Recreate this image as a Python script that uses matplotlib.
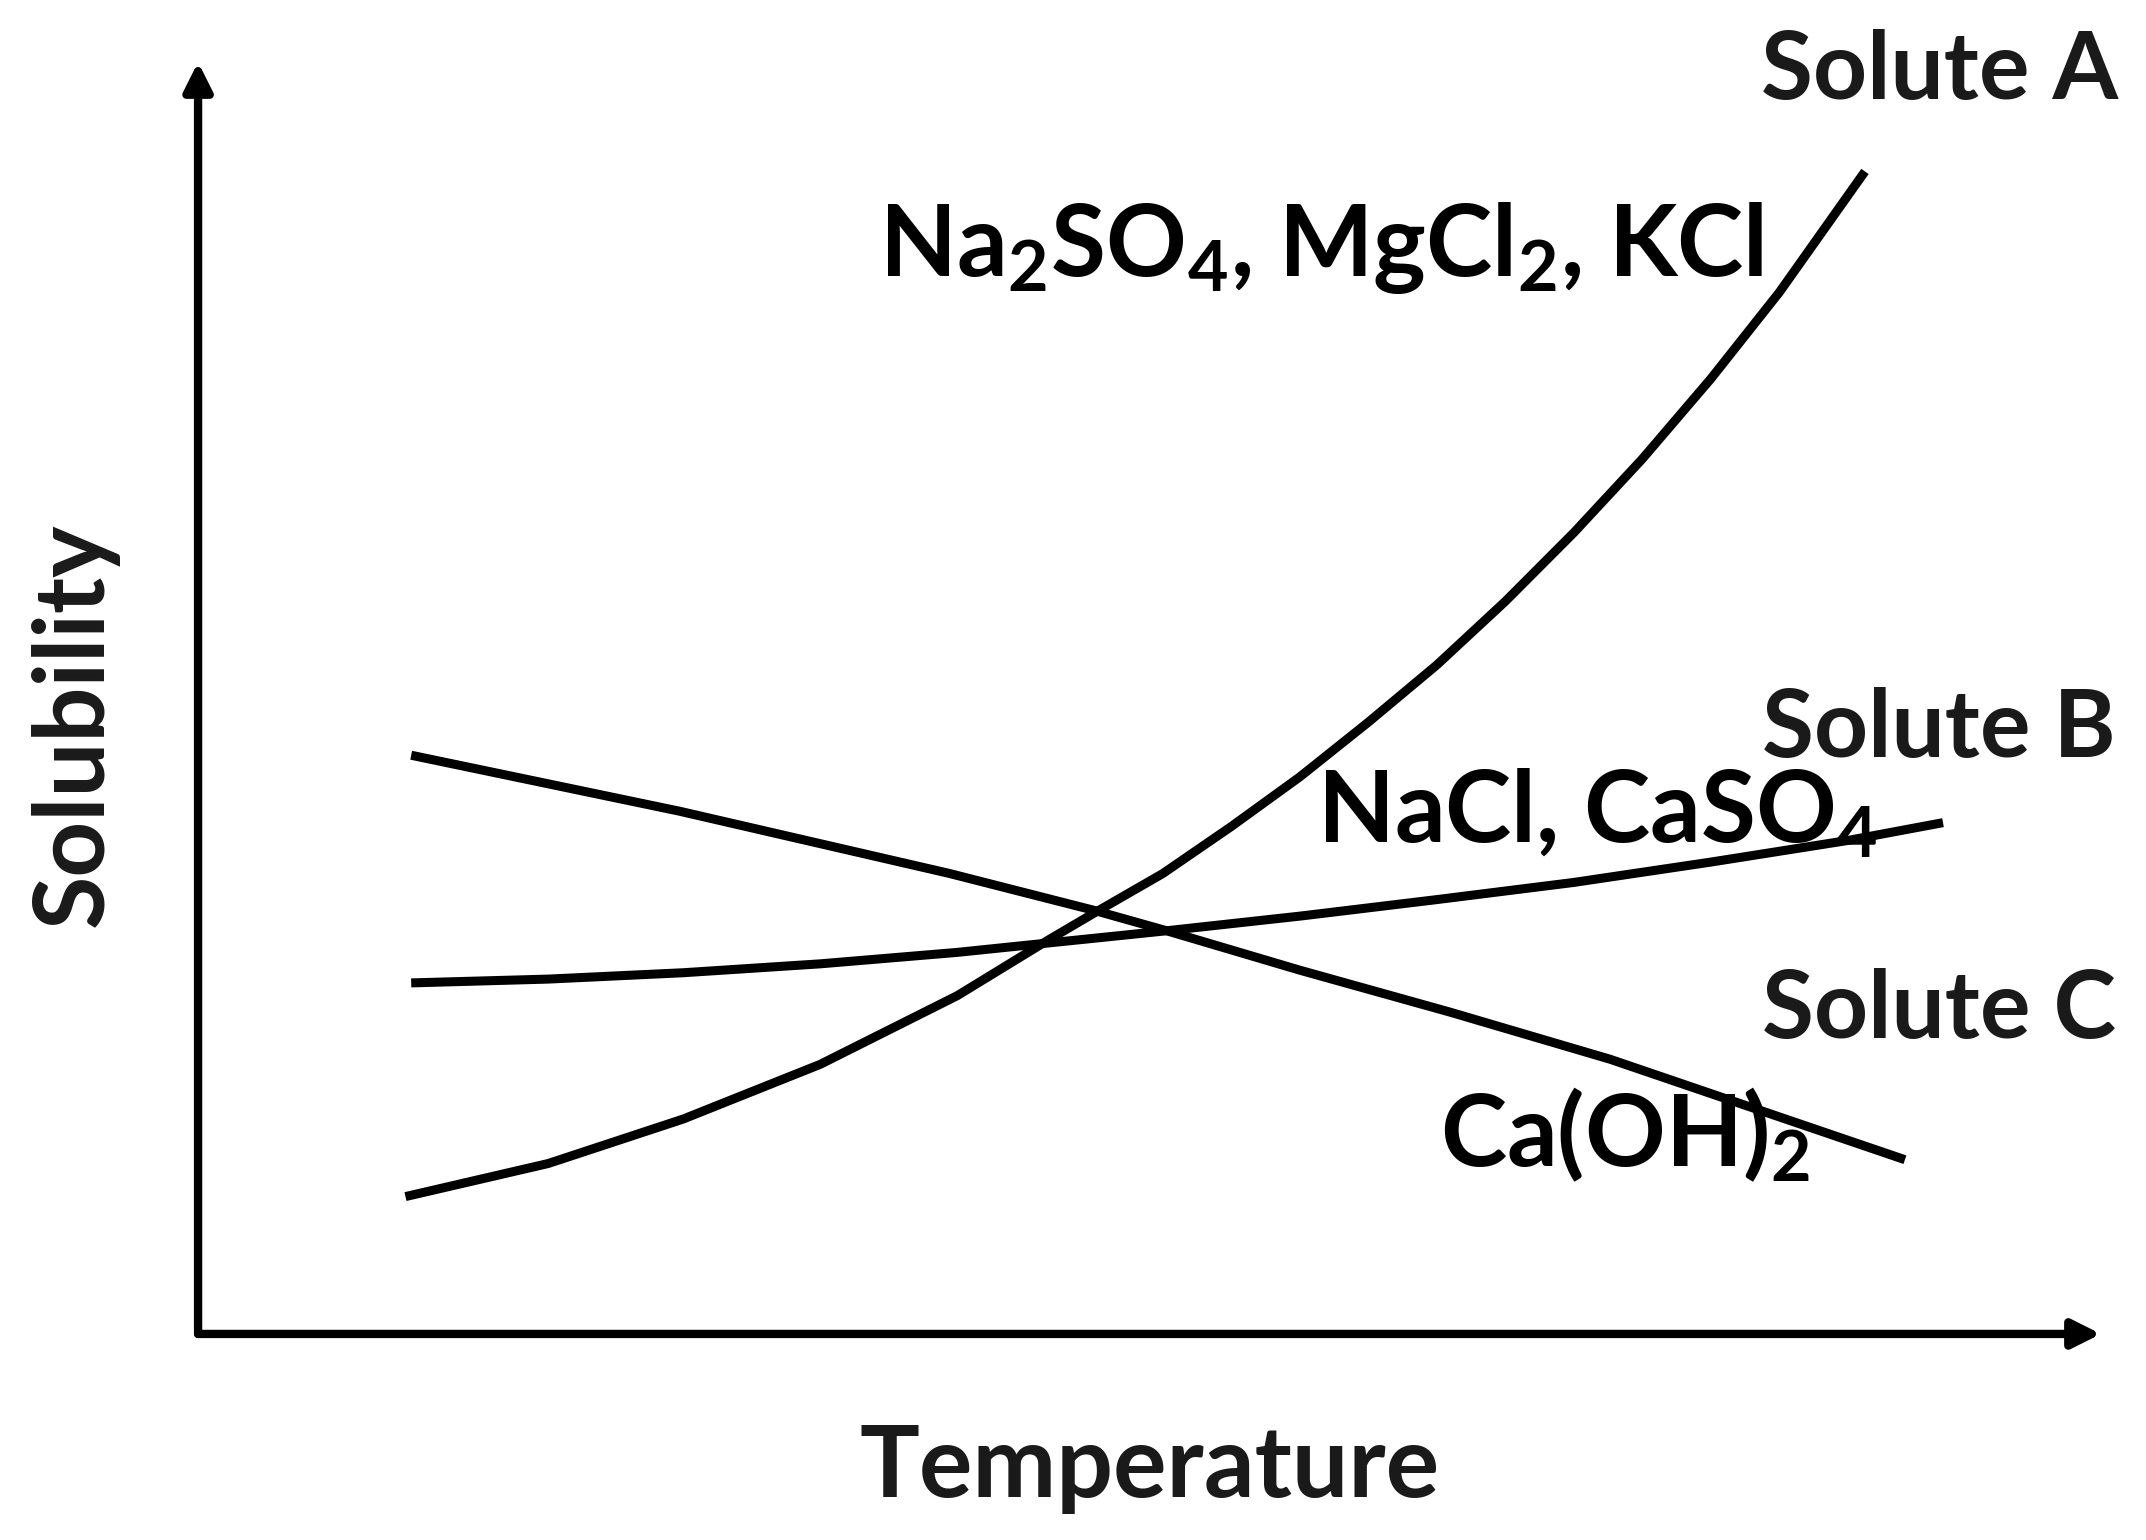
import numpy as np
import matplotlib
matplotlib.use("Agg")
import matplotlib.pyplot as plt

plt.rcParams['font.family'] = ['Lato', 'DejaVu Sans']
plt.rcParams['mathtext.fontset'] = 'custom'
plt.rcParams['mathtext.rm'] = 'Lato:bold'
plt.rcParams['mathtext.it'] = 'Lato:bold'
plt.rcParams['mathtext.bf'] = 'Lato:bold'

# solubility curves (arbitrary units)
temp_a = [10.9, 18.4, 25.5, 32.7, 39.9, 44.6, 47.1, 50.7, 54.3, 57.9, 61.5,
          65.1, 68.7, 72.3, 75.9, 79.5, 83.1, 87.6]
sol_a = [10.8, 13.4, 16.9, 21.2, 26.6, 30.9, 33.1, 36.2, 39.9, 43.8, 48.1,
         52.6, 57.6, 63.0, 68.8, 75.1, 81.9, 91.4]

temp_b = [11.2, 18.4, 25.5, 32.7, 39.9, 50.9, 57.9, 65.1, 72.3, 79.5, 86.7, 91.7]
sol_b = [27.6, 27.9, 28.4, 29.1, 30.0, 31.7, 32.85, 34.15, 35.5, 37.1, 38.8, 40.2]

temp_c = [11.2, 25.3, 39.5, 47.1, 50.9, 57.9, 65.8, 74.2, 89.7]
sol_c = [45.5, 41.1, 36.2, 33.3, 31.7, 28.6, 25.3, 21.6, 13.7]

fig = plt.figure(figsize=(21.46, 15.40), dpi=100)
ax = fig.add_axes([0.0923, 0.1338, 0.8867, 0.8259])
ax.set_xlim(0, 100)
ax.set_ylim(0, 100)
ax.axis('off')

lw = 6.5
for tx, sy in [(temp_a, sol_a), (temp_b, sol_b), (temp_c, sol_c)]:
    ax.plot(tx, sy, color='black', lw=lw, solid_capstyle='butt', solid_joinstyle='round')

# axes arrows
arr = dict(arrowstyle='-|>', lw=6, color='black', mutation_scale=42, shrinkA=0, shrinkB=0)
ax.annotate('', xy=(100, 0), xytext=(0, 0), arrowprops=arr, annotation_clip=False)
ax.annotate('', xy=(0, 100), xytext=(0, 0), arrowprops=arr, annotation_clip=False)

lab = dict(fontsize=68, fontweight='bold', color='#1a1a1a')
ax.text(91.5, 97.1, 'Solute A', ha='center', va='baseline', **lab)
ax.text(91.5, 45.4, 'Solute B', ha='center', va='baseline', **lab)
ax.text(91.5, 23.3, 'Solute C', ha='center', va='baseline', **lab)

chem = dict(fontsize=72, fontweight='bold', color='black')
ax.text(35.8, 83.15, r'Na$_2$SO$_4$, MgCl$_2$, KCl', ha='left', va='baseline', **chem)
ax.text(58.8, 38.6, r'NaCl, CaSO$_4$', ha='left', va='baseline', **chem)
ax.text(65.25, 13.2, r'Ca(OH)$_2$', ha='left', va='baseline', **chem)

ax.text(50, -12.8, 'Temperature', ha='center', va='baseline', fontsize=72,
        fontweight='bold', color='#1a1a1a')
ax.text(-6.5, 47.9, 'Solubility', ha='center', va='center', rotation=90,
        fontsize=70, fontweight='bold', color='#1a1a1a')

fig.savefig('out.png', dpi=100, facecolor='white')
